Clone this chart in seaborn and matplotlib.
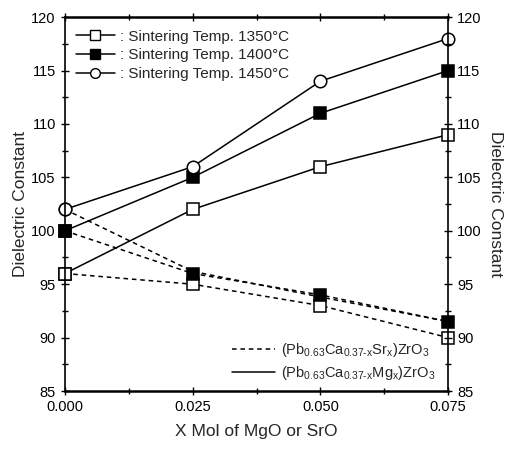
import matplotlib
matplotlib.use("Agg")
import matplotlib.pyplot as plt
import seaborn as sns
import pandas as pd
from matplotlib.lines import Line2D
from matplotlib.ticker import MultipleLocator

sns.set_style("ticks")
plt.rcParams['font.family'] = ['Liberation Sans', 'DejaVu Sans']
plt.rcParams['mathtext.fontset'] = 'custom'
plt.rcParams['mathtext.rm'] = 'Liberation Sans'
plt.rcParams['mathtext.it'] = 'Liberation Sans:italic'

x_mol = [0.000, 0.025, 0.050, 0.075]
temps = ["1350", "1400", "1450"]
mg_1350 = [96, 102, 106, 109]
mg_1400 = [100, 105, 111, 115]
mg_1450 = [102, 106, 114, 118]
sr_1350 = [96, 95, 93, 90]
sr_1400 = [100, 96, 94, 91.5]
sr_1450 = [102, 96.2, 93.8, 91.5]

mg = {"1350": mg_1350, "1400": mg_1400, "1450": mg_1450}
sr = {"1350": sr_1350, "1400": sr_1400, "1450": sr_1450}

fig = plt.figure(figsize=(5.07, 4.51), dpi=100)
ax = fig.add_axes([0.128, 0.133, 0.756, 0.829])

style = {
    "1350": dict(marker='s', mfc='white'),
    "1400": dict(marker='s', mfc='black'),
    "1450": dict(marker='o', mfc='white'),
}

for t in ["1450", "1350", "1400"]:
    df = pd.DataFrame({"x": x_mol, "y": sr[t]})
    sns.lineplot(data=df, x="x", y="y", ax=ax, color='black', lw=1.1,
                 linestyle=(0, (3, 2.5)), marker=style[t]['marker'],
                 markerfacecolor=style[t]['mfc'], markeredgecolor='black',
                 markersize=9, markeredgewidth=1.1, clip_on=False)
    ln = ax.lines[-1]
    if t == "1450":
        ln.set_markevery([0])
for t in temps:
    df = pd.DataFrame({"x": x_mol, "y": mg[t]})
    sns.lineplot(data=df, x="x", y="y", ax=ax, color='black', lw=1.1,
                 linestyle='-', marker=style[t]['marker'],
                 markerfacecolor=style[t]['mfc'], markeredgecolor='black',
                 markersize=9, markeredgewidth=1.1, clip_on=False)

ax.set_xlim(0, 0.075)
ax.set_ylim(85, 120)
ax.set_xticks([0, 0.025, 0.05, 0.075])
ax.set_xticklabels(["0.000", "0.025", "0.050", "0.075"])
ax.xaxis.set_minor_locator(MultipleLocator(0.0125))
ax.yaxis.set_major_locator(MultipleLocator(5))
ax.yaxis.set_minor_locator(MultipleLocator(2.5))
ax.tick_params(which='both', direction='inout', labelsize=10.5, width=1, colors='black')
ax.tick_params(which='major', length=6)
ax.tick_params(which='minor', length=4)
ax.tick_params(axis='x', which='both', top=True)
for s in ax.spines.values():
    s.set_linewidth(1.2)
    s.set_color('black')
    s.set_visible(True)
ax.spines['top'].set_linewidth(1.8)
ax.spines['bottom'].set_linewidth(1.8)

ax.set_xlabel("X Mol of MgO or SrO", fontsize=12.5, labelpad=7)
ax.set_ylabel("Dielectric Constant", fontsize=12.5, labelpad=2)

axr = ax.twinx()
axr.set_ylim(85, 120)
axr.yaxis.set_major_locator(MultipleLocator(5))
axr.yaxis.set_minor_locator(MultipleLocator(2.5))
axr.tick_params(which='both', direction='inout', labelsize=10.5, width=1, colors='black')
axr.tick_params(which='major', length=6)
axr.tick_params(which='minor', length=4)
for s in axr.spines.values():
    s.set_visible(False)
axr.set_ylabel("Dielectric Constant", fontsize=12.5, rotation=270, labelpad=15)

h1 = [
    Line2D([], [], color='black', lw=1.1, marker='s', mfc='white', mec='black', markersize=7),
    Line2D([], [], color='black', lw=1.1, marker='s', mfc='black', mec='black', markersize=7),
    Line2D([], [], color='black', lw=1.1, marker='o', mfc='white', mec='black', markersize=7),
]
l1 = [f": Sintering Temp. {t}\u00b0C" for t in temps]
leg1 = ax.legend(h1, l1, loc='upper left', frameon=False, fontsize=11,
                 handlelength=2.6, handletextpad=0.3, borderaxespad=0.3,
                 labelspacing=0.3, bbox_to_anchor=(0.0, 0.995))
ax.add_artist(leg1)

h2 = [
    Line2D([], [], color='black', lw=1.1, linestyle=(0, (3, 2.5))),
    Line2D([], [], color='black', lw=1.1, linestyle='-'),
]
l2 = [r"$\mathregular{(Pb_{0.63}Ca_{0.37\text{-}x}Sr_x)ZrO_3}$",
      r"$\mathregular{(Pb_{0.63}Ca_{0.37\text{-}x}Mg_x)ZrO_3}$"]
ax.legend(h2, l2, loc='lower right', frameon=False, fontsize=10.5,
          handlelength=3.0, handletextpad=0.4, borderaxespad=0.2,
          labelspacing=0.35, bbox_to_anchor=(0.99, 0.0))

fig.savefig("out.png", dpi=100)
